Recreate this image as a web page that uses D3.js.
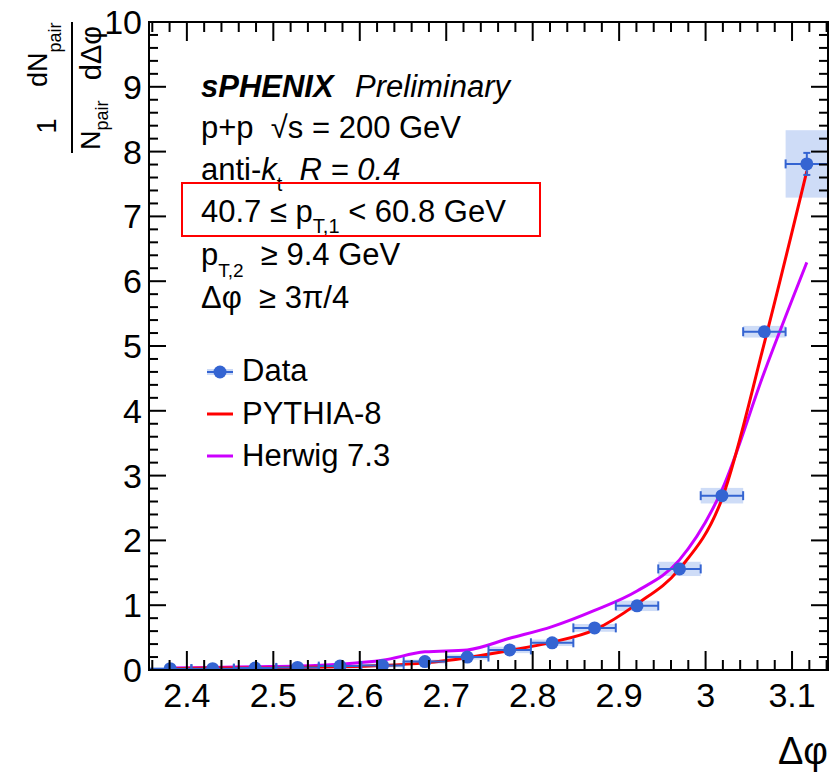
<!DOCTYPE html>
<html>
<head>
<meta charset="utf-8">
<script src="https://cdn.jsdelivr.net/npm/d3@7"></script>
<style>
  html, body { margin: 0; padding: 0; background: #fff; }
  svg { display: block; font-family: "Liberation Sans", Arial, Helvetica, sans-serif; }
  text, tspan { white-space: pre; }
</style>
</head>
<body>
<svg id="chart" width="832" height="774"></svg>
<script>
// ---------------- data ----------------
const binCenters = [2.3807, 2.4298, 2.4789, 2.5280, 2.5771, 2.6262, 2.6753, 2.7243,
                    2.7734, 2.8225, 2.8716, 2.9207, 2.9698, 3.0189, 3.0680, 3.1171];
const binHalfWidth = 0.02454;
const dataValues = [0.02, 0.02, 0.03, 0.04, 0.06, 0.07, 0.13, 0.20,
                    0.31, 0.42, 0.65, 0.99, 1.56, 2.69, 5.22, 7.81];
const statErrors = [0.005, 0.005, 0.005, 0.006, 0.008, 0.01, 0.012, 0.015,
                    0.02, 0.025, 0.03, 0.04, 0.05, 0.07, 0.09, 0.17];
const systErrors = [0.02, 0.02, 0.02, 0.02, 0.02, 0.03, 0.03, 0.04,
                    0.05, 0.05, 0.06, 0.08, 0.11, 0.12, 0.09, 0.52];
const pythiaValues = [0.02, 0.03, 0.03, 0.04, 0.05, 0.07, 0.11, 0.19,
                      0.30, 0.43, 0.62, 1.02, 1.56, 2.64, 5.05, 7.70];
const herwigValues = [0.03, 0.04, 0.05, 0.06, 0.09, 0.15, 0.28, 0.31,
                      0.49, 0.67, 0.92, 1.22, 1.70, 2.78, 4.60, 6.29];
const xTickValues = [2.4, 2.5, 2.6, 2.7, 2.8, 2.9, 3.0, 3.1];
const xTickLabels = ["2.4", "2.5", "2.6", "2.7", "2.8", "2.9", "3", "3.1"];
const yTickValues = [0, 1, 2, 3, 4, 5, 6, 7, 8, 9, 10];
const yTickLabels = ["0", "1", "2", "3", "4", "5", "6", "7", "8", "9", "10"];

// ---------------- layout ----------------
const L = 149, R = 828, T = 22, B = 670;
const svg = d3.select("#chart");
const x = d3.scaleLinear().domain([3 * Math.PI / 4, Math.PI]).range([L, R]);
const y = d3.scaleLinear().domain([0, 10]).range([B, T]);

const cBlue = "#3464d2";
const cBox = "#c9d8f6";
const cRed = "#ff0000";
const cMag = "#cc00ff";

const pts = binCenters.map((c, i) => ({
  x: c, v: dataValues[i], s: statErrors[i], sy: systErrors[i],
  p: pythiaValues[i], h: herwigValues[i]
}));

const plot = svg.append("g");
svg.append("defs").append("clipPath").attr("id", "clipFrame")
  .append("rect").attr("x", L).attr("y", T).attr("width", R - L).attr("height", B - T);

const inner = plot.append("g").attr("clip-path", "url(#clipFrame)");

// systematic boxes
inner.selectAll("rect.sys").data(pts).enter().append("rect")
  .attr("class", "sys")
  .attr("x", d => x(d.x - binHalfWidth))
  .attr("width", d => x(d.x + binHalfWidth) - x(d.x - binHalfWidth))
  .attr("y", d => y(d.v + d.sy))
  .attr("height", d => Math.max(4, y(d.v - d.sy) - y(d.v + d.sy)))
  .attr("fill", cBox).attr("opacity", 0.9);

// model curves
const line = key => d3.line().x(d => x(d.x)).y(d => y(d[key])).curve(d3.curveMonotoneX);
inner.append("path").datum(pts).attr("d", line("h"))
  .attr("fill", "none").attr("stroke", cMag).attr("stroke-width", 3);
inner.append("path").datum(pts).attr("d", line("p"))
  .attr("fill", "none").attr("stroke", cRed).attr("stroke-width", 3);

// error bars
const eb = inner.append("g").attr("stroke", cBlue).attr("stroke-width", 2);
pts.forEach(d => {
  const x0 = x(d.x - binHalfWidth), x1 = x(d.x + binHalfWidth), yc = y(d.v);
  eb.append("line").attr("x1", x0).attr("x2", x1).attr("y1", yc).attr("y2", yc);
  eb.append("line").attr("x1", x0).attr("x2", x0).attr("y1", yc - 4.5).attr("y2", yc + 4.5);
  eb.append("line").attr("x1", x1).attr("x2", x1).attr("y1", yc - 4.5).attr("y2", yc + 4.5);
  const yt = y(d.v + d.s), yb = y(d.v - d.s);
  if (yb - yt > 12) {
    eb.append("line").attr("x1", x(d.x)).attr("x2", x(d.x)).attr("y1", yt).attr("y2", yb);
    eb.append("line").attr("x1", x(d.x) - 3.5).attr("x2", x(d.x) + 3.5).attr("y1", yt).attr("y2", yt);
    eb.append("line").attr("x1", x(d.x) - 3.5).attr("x2", x(d.x) + 3.5).attr("y1", yb).attr("y2", yb);
  }
});

// markers
inner.selectAll("circle.pt").data(pts).enter().append("circle")
  .attr("class", "pt")
  .attr("cx", d => x(d.x)).attr("cy", d => y(d.v)).attr("r", 6.5)
  .attr("fill", cBlue);

// ---------------- frame & ticks ----------------
const ax = plot.append("g").attr("stroke", "#000").attr("stroke-width", 2);
const xMinor = d3.range(2.36, 3.1401, 0.02).filter(v => v >= 3 * Math.PI / 4 && v <= Math.PI);
const yMinor = d3.range(0, 10.001, 0.2);
xMinor.forEach(v => {
  const isMajor = xTickValues.some(t => Math.abs(t - v) < 1e-6);
  const len = isMajor ? 19 : 10;
  ax.append("line").attr("x1", x(v)).attr("x2", x(v)).attr("y1", B).attr("y2", B - len);
  ax.append("line").attr("x1", x(v)).attr("x2", x(v)).attr("y1", T).attr("y2", T + len);
});
yMinor.forEach(v => {
  const isMajor = yTickValues.some(t => Math.abs(t - v) < 1e-6);
  const len = isMajor ? 17 : 9;
  ax.append("line").attr("x1", L).attr("x2", L + len).attr("y1", y(v)).attr("y2", y(v));
  ax.append("line").attr("x1", R).attr("x2", R - len).attr("y1", y(v)).attr("y2", y(v));
});
ax.append("rect").attr("x", L).attr("y", T).attr("width", R - L).attr("height", B - T)
  .attr("fill", "none");

// tick labels
const tl = svg.append("g").attr("font-size", 34).attr("fill", "#000");
xTickValues.forEach((v, i) => {
  tl.append("text").attr("x", x(v)).attr("y", 707).attr("text-anchor", "middle").text(xTickLabels[i]);
});
yTickValues.forEach((v, i) => {
  tl.append("text").attr("x", 142).attr("y", y(v) + 12).attr("text-anchor", "end").text(yTickLabels[i]);
});

// x title
svg.append("text").attr("x", 828).attr("y", 764).attr("text-anchor", "end")
  .attr("font-size", 38).text("Δφ");

// y title (rotated fraction)
const ytg = svg.append("g").attr("transform", "translate(72,153) rotate(-90)").attr("fill", "#000");
ytg.append("line").attr("x1", 0).attr("x2", 131).attr("y1", 0).attr("y2", 0)
  .attr("stroke", "#000").attr("stroke-width", 2);
ytg.append("text").attr("x", 27).attr("y", -16).attr("font-size", 27).attr("text-anchor", "middle").text("1");
const tN = ytg.append("text").attr("x", 3).attr("y", 28).attr("font-size", 27);
tN.append("tspan").text("N");
tN.append("tspan").attr("font-size", 18).attr("dy", 8).text("pair");
const tdN = ytg.append("text").attr("x", 66).attr("y", -25).attr("font-size", 27);
tdN.append("tspan").text("dN");
tdN.append("tspan").attr("font-size", 18).attr("dy", 14).text("pair");
ytg.append("text").attr("x", 100).attr("y", 29).attr("font-size", 29).attr("text-anchor", "middle").text("dΔφ");

// ---------------- labels ----------------
const lab = svg.append("g").attr("font-size", 31).attr("fill", "#000");
lab.append("text").attr("x", 201).attr("y", 97).attr("font-weight", "bold").attr("font-style", "italic").text("sPHENIX");
lab.append("text").attr("x", 355).attr("y", 97).attr("font-style", "italic").text("Preliminary");

lab.append("text").attr("x", 201).attr("y", 138).text("p+p  √s = 200 GeV");

const l3 = lab.append("text").attr("x", 201).attr("y", 180);
l3.append("tspan").text("anti-");
l3.append("tspan").attr("font-style", "italic").text("k");
l3.append("tspan").attr("font-size", 20).attr("dy", 11).text("t");
l3.append("tspan").attr("dy", -11).attr("font-style", "italic").text("  R = 0.4");

const l4 = lab.append("text").attr("x", 201).attr("y", 222);
l4.append("tspan").text("40.7 ≤ p");
l4.append("tspan").attr("font-size", 20).attr("dy", 11).text("T,1");
l4.append("tspan").attr("dy", -11).text(" < 60.8 GeV");

svg.append("rect").attr("x", 182).attr("y", 183).attr("width", 358).attr("height", 53)
  .attr("fill", "none").attr("stroke", cRed).attr("stroke-width", 2);

const l5 = lab.append("text").attr("x", 201).attr("y", 265);
l5.append("tspan").text("p");
l5.append("tspan").attr("font-size", 19).attr("dy", 12).text("T,2");
l5.append("tspan").attr("dy", -12).text("  ≥ 9.4 GeV");

lab.append("text").attr("x", 201).attr("y", 308).text("Δφ  ≥ 3π/4");

// legend
const lg = svg.append("g");
lg.append("line").attr("x1", 207).attr("x2", 233).attr("y1", 372).attr("y2", 372)
  .attr("stroke", cBox).attr("stroke-width", 6);
lg.append("line").attr("x1", 207).attr("x2", 233).attr("y1", 372).attr("y2", 372)
  .attr("stroke", cBlue).attr("stroke-width", 2);
lg.append("circle").attr("cx", 220).attr("cy", 372).attr("r", 6.5).attr("fill", cBlue);
lg.append("line").attr("x1", 207).attr("x2", 233).attr("y1", 414).attr("y2", 414)
  .attr("stroke", cRed).attr("stroke-width", 3);
lg.append("line").attr("x1", 207).attr("x2", 233).attr("y1", 456).attr("y2", 456)
  .attr("stroke", cMag).attr("stroke-width", 3);
const lgt = lg.append("g").attr("font-size", 31).attr("fill", "#000");
lgt.append("text").attr("x", 242).attr("y", 381).text("Data");
lgt.append("text").attr("x", 242).attr("y", 424).text("PYTHIA-8");
lgt.append("text").attr("x", 242).attr("y", 466).text("Herwig 7.3");
</script>
</body>
</html>
